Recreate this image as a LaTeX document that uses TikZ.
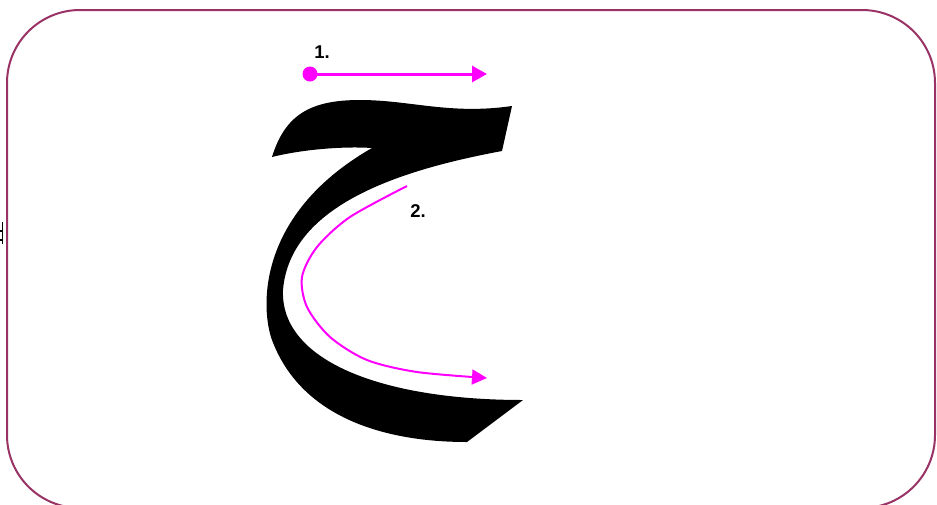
\documentclass[tikz,border=0pt]{standalone}
\usepackage{fontspec}
\setmainfont{Liberation Sans}
\usetikzlibrary{arrows.meta}
\definecolor{frame}{RGB}{153,51,102}
\definecolor{mag}{RGB}{255,0,255}
\tikzset{
  framebox/.style={draw=frame, line width=2pt, rounded corners=73pt},
  stroke/.style={draw=mag, line width=#1, -{Triangle[length=15pt,width=16pt]}},
  numlabel/.style={font=\bfseries\fontsize{18.5}{18.5}\selectfont, inner sep=0pt}
}
\begin{document}
\begin{tikzpicture}[x=1pt,y=-1pt]
\useasboundingbox (0,0) rectangle (937,504);
\fill[white] (0,0) rectangle (937,504);
\draw[framebox] (7,10) rectangle (935,508);
% small fragment at left edge
\draw[line width=1.4pt] (2.5,222) -- (2.5,244);
\draw[line width=1.2pt] (0,231) -- (3,231);
\draw[line width=1.2pt] (0,240) -- (3,240);
% letter
\fill[black] (272,157) .. controls (285,115) and (310,100) .. (360,100)
  .. controls (410,100) and (450,115) .. (512,106)
  -- (502,151)
  .. controls (400,170) and (290,205) .. (283,290)
  .. controls (280,360) and (380,400) .. (523,400)
  -- (467,442)
  .. controls (380,442) and (300,415) .. (272,340)
  .. controls (261,310) and (255,215) .. (372,148)
  .. controls (340,146) and (300,150) .. (272,157)
  -- cycle;
% stroke 1
\coordinate (s1) at (310,74);
\coordinate (e1) at (487,74);
\fill[mag] (s1) circle (7.5);
\draw[stroke=3pt] (s1) -- (e1);
\node[numlabel] (n1) at (322,52) {1.};
% stroke 2
\draw[stroke=2pt, -{Triangle[length=15pt,width=15pt]}] plot[smooth] coordinates {(407,186) (350,217) (317,247) (302,277) (307,307) (330,337) (367,360) (417,372) (487,378)};
\node[numlabel] (n2) at (418,211) {2.};
\end{tikzpicture}
\end{document}
